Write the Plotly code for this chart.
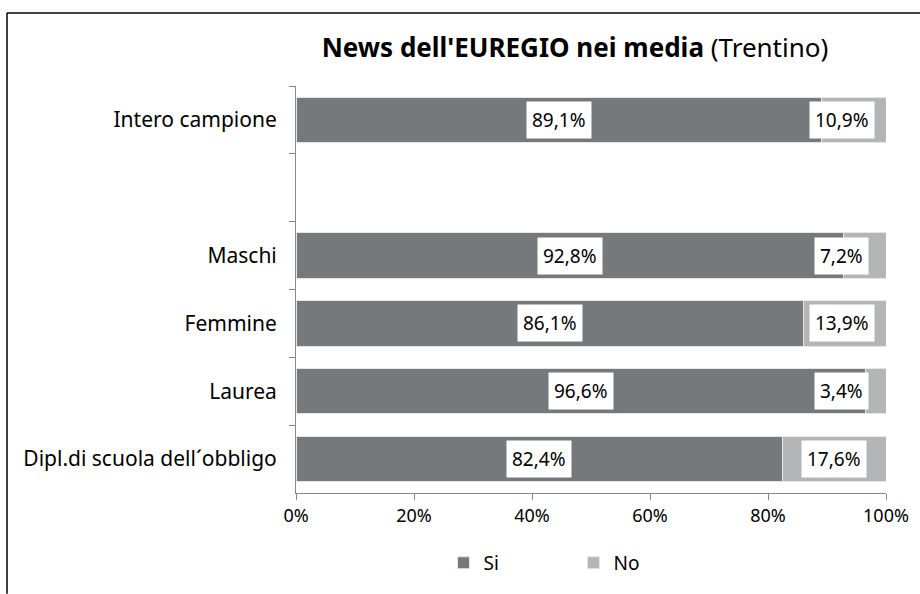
import plotly.graph_objects as go

# Data
categorie = ["Intero campione", " ", "Maschi", "Femmine", "Laurea", "Dipl.di scuola dell´obbligo"]
si = [89.1, None, 92.8, 86.1, 96.6, 82.4]
no = [10.9, None, 7.2, 13.9, 3.4, 17.6]

FONT = "Noto Sans"
col_si = "#76797b"
col_no = "#b3b5b6"

fig = go.Figure()
fig.add_trace(go.Bar(y=categorie, x=si, name="Si", orientation="h",
                     marker=dict(color=col_si, line=dict(color="#e6e6e6", width=1))))
fig.add_trace(go.Bar(y=categorie, x=no, name="No", orientation="h",
                     marker=dict(color=col_no, line=dict(color="#e6e6e6", width=1))))

# white-boxed value labels
for cat, s, n in zip(categorie, si, no):
    if s is None:
        continue
    fig.add_annotation(x=s / 2, y=cat, text=f"{s:.1f}%".replace(".", ","),
                       showarrow=False, bgcolor="white", borderpad=5,
                       font=dict(size=19, color="black"))
    fig.add_annotation(x=min(s + n / 2, 92.5), y=cat, text=f"{n:.1f}%".replace(".", ","),
                       showarrow=False, bgcolor="white", borderpad=5,
                       font=dict(size=19, color="black"))

# outer frame (top and left edges only)
fig.add_shape(type="line", xref="paper", yref="paper",
              x0=(7 - 296) / 590, x1=(920 - 296) / 590, y0=(498 - 12) / 412, y1=(498 - 12) / 412,
              line=dict(color="black", width=1.5))
fig.add_shape(type="line", xref="paper", yref="paper",
              x0=(7 - 296) / 590, x1=(7 - 296) / 590, y0=(498 - 12) / 412, y1=(498 - 600) / 412,
              line=dict(color="black", width=1.5))

fig.update_layout(
    width=920, height=594,
    margin=dict(l=296, r=34, t=86, b=96),
    barmode="stack", bargap=0.33,
    plot_bgcolor="white", paper_bgcolor="white",
    font=dict(family=FONT, size=19, color="black"),
    title=dict(text="<b>News dell'EUREGIO nei media</b> (Trentino)",
               x=0.625, xanchor="center", y=0.919, yanchor="middle",
               font=dict(size=26, color="black")),
    showlegend=True,
    legend=dict(orientation="h", traceorder="normal", x=0.25, xanchor="left",
                y=-0.125, yanchor="top",
                font=dict(size=19), entrywidth=85, entrywidthmode="pixels",
                itemwidth=30),
    xaxis=dict(range=[0, 100], tickvals=[0, 20, 40, 60, 80, 100],
               ticktext=["0%", "20%", "40%", "60%", "80%", "100%"],
               showgrid=False, zeroline=False, showline=True, linecolor="#888888",
               ticks="outside", ticklen=6, tickcolor="#888888",
               tickfont=dict(size=18)),
    yaxis=dict(categoryorder="array", categoryarray=categorie,
               autorange="reversed", showgrid=False, showline=True, linecolor="#888888",
               ticks="outside", ticklen=6, tickcolor="#888888", tickson="boundaries",
               ticklabelstandoff=14, tickfont=dict(size=21)),
)

# remove the default page margin so the figure sits at the window origin
fig.write_html("out.html", config={"displayModeBar": False},
               post_script="document.body.style.margin='0';")
